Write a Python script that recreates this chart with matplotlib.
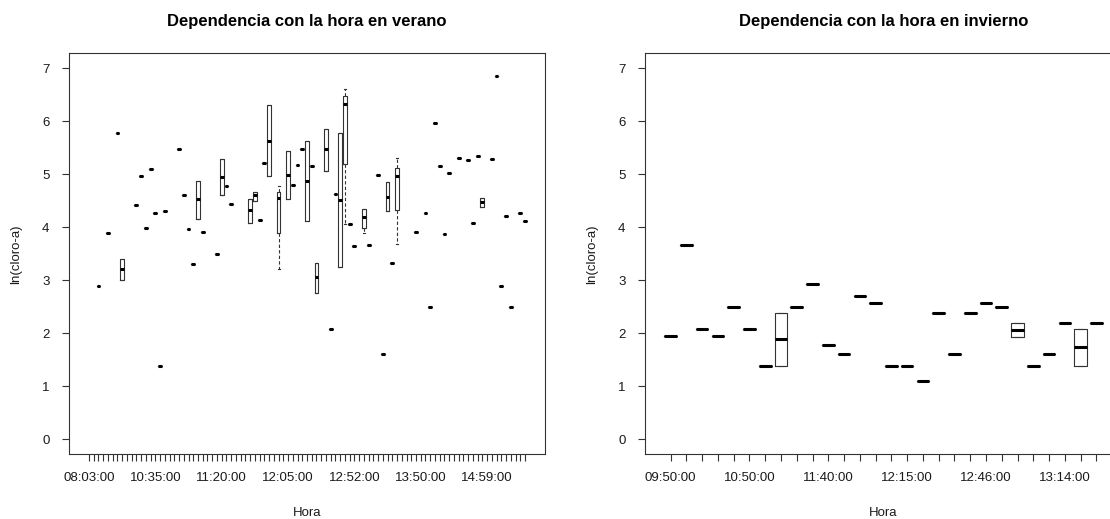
import matplotlib
matplotlib.use('Agg')
import matplotlib.pyplot as plt

plt.rcParams['font.family'] = ['Liberation Sans', 'DejaVu Sans']

# ---------------- Summer (verano) ----------------
n_verano = 93
verano_pos = [2, 4, 6, 7, 10, 11, 12, 13, 14, 15,
              16, 19, 20, 21, 22, 23, 24, 27, 28, 29,
              30, 34, 35, 36, 37, 38, 40, 42, 43, 44,
              45, 46, 47, 48, 50, 51, 52, 53, 54, 55,
              56, 58, 59, 61, 62, 63, 64, 65, 69, 71,
              72, 73, 74, 75, 76, 78, 80, 81, 82, 83,
              85, 86, 87, 88, 89, 91, 92]
verano_med = [2.89, 3.89, 5.77, 3.21, 4.42, 4.96, 3.99, 5.09, 4.27, 1.39,
              4.31, 5.48, 4.60, 3.96, 3.30, 4.53, 3.91, 3.49, 4.95, 4.77,
              4.43, 4.32, 4.60, 4.13, 5.21, 5.63, 4.56, 4.99, 4.80, 5.17,
              5.48, 4.88, 5.15, 3.06, 5.48, 2.08, 4.62, 4.52, 6.33, 4.07,
              3.64, 4.19, 3.67, 4.99, 1.61, 4.58, 3.33, 4.96, 3.91, 4.26,
              2.49, 5.96, 5.16, 3.87, 5.02, 5.30, 5.26, 4.09, 5.34, 4.48,
              5.28, 6.85, 2.89, 4.21, 2.49, 4.26, 4.11]
verano_q1 = [2.89, 3.89, 5.77, 3.01, 4.42, 4.96, 3.99, 5.09, 4.27, 1.39,
             4.31, 5.48, 4.60, 3.96, 3.30, 4.16, 3.91, 3.49, 4.60, 4.77,
             4.43, 4.09, 4.49, 4.13, 5.21, 4.96, 3.89, 4.53, 4.80, 5.17,
             5.48, 4.11, 5.15, 2.77, 5.07, 2.08, 4.62, 3.25, 5.19, 4.07,
             3.64, 3.98, 3.67, 4.99, 1.61, 4.30, 3.33, 4.32, 3.91, 4.26,
             2.49, 5.96, 5.16, 3.87, 5.02, 5.30, 5.26, 4.09, 5.34, 4.38,
             5.28, 6.85, 2.89, 4.21, 2.49, 4.26, 4.11]
verano_q3 = [2.89, 3.89, 5.77, 3.40, 4.42, 4.96, 3.99, 5.09, 4.27, 1.39,
             4.31, 5.48, 4.60, 3.96, 3.30, 4.88, 3.91, 3.49, 5.28, 4.77,
             4.43, 4.53, 4.67, 4.13, 5.21, 6.30, 4.67, 5.43, 4.80, 5.17,
             5.48, 5.63, 5.15, 3.33, 5.85, 2.08, 4.62, 5.77, 6.47, 4.07,
             3.64, 4.34, 3.67, 4.99, 1.61, 4.85, 3.33, 5.11, 3.91, 4.26,
             2.49, 5.96, 5.16, 3.87, 5.02, 5.30, 5.26, 4.09, 5.34, 4.56,
             5.28, 6.85, 2.89, 4.21, 2.49, 4.26, 4.11]
verano_lo = [2.89, 3.89, 5.77, 3.01, 4.42, 4.96, 3.99, 5.09, 4.27, 1.39,
             4.31, 5.48, 4.60, 3.96, 3.30, 4.16, 3.91, 3.49, 4.60, 4.77,
             4.43, 4.09, 4.49, 4.13, 5.21, 4.96, 3.22, 4.53, 4.80, 5.17,
             5.48, 4.11, 5.15, 2.77, 5.07, 2.08, 4.62, 3.25, 4.07, 4.07,
             3.64, 3.90, 3.67, 4.99, 1.61, 4.30, 3.33, 3.68, 3.91, 4.26,
             2.49, 5.96, 5.16, 3.87, 5.02, 5.30, 5.26, 4.09, 5.34, 4.38,
             5.28, 6.85, 2.89, 4.21, 2.49, 4.26, 4.11]
verano_hi = [2.89, 3.89, 5.77, 3.40, 4.42, 4.96, 3.99, 5.09, 4.27, 1.39,
             4.31, 5.48, 4.60, 3.96, 3.30, 4.88, 3.91, 3.49, 5.28, 4.77,
             4.43, 4.53, 4.67, 4.13, 5.21, 6.30, 4.77, 5.43, 4.80, 5.17,
             5.48, 5.63, 5.15, 3.33, 5.85, 2.08, 4.62, 5.77, 6.61, 4.07,
             3.64, 4.34, 3.67, 4.99, 1.61, 4.85, 3.33, 5.30, 3.91, 4.26,
             2.49, 5.96, 5.16, 3.87, 5.02, 5.30, 5.26, 4.09, 5.34, 4.56,
             5.28, 6.85, 2.89, 4.21, 2.49, 4.26, 4.11]
verano_tick_idx = [0, 14, 28, 42, 56, 70, 84]
verano_tick_lab = ['08:03:00', '10:35:00', '11:20:00', '12:05:00',
                   '12:52:00', '13:50:00', '14:59:00']

# ---------------- Winter (invierno) ----------------
n_invierno = 28
invierno_pos = list(range(28))
invierno_med = [1.95, 3.67, 2.08, 1.95, 2.49, 2.08, 1.39, 1.89, 2.49, 2.94,
                1.79, 1.61, 2.71, 2.57, 1.39, 1.39, 1.10, 2.39, 1.61, 2.39,
                2.57, 2.49, 2.07, 1.39, 1.61, 2.20, 1.74, 2.20]
invierno_q1 = [1.95, 3.67, 2.08, 1.95, 2.49, 2.08, 1.39, 1.39, 2.49, 2.94,
               1.79, 1.61, 2.71, 2.57, 1.39, 1.39, 1.10, 2.39, 1.61, 2.39,
               2.57, 2.49, 1.94, 1.39, 1.61, 2.20, 1.39, 2.20]
invierno_q3 = [1.95, 3.67, 2.08, 1.95, 2.49, 2.08, 1.39, 2.39, 2.49, 2.94,
               1.79, 1.61, 2.71, 2.57, 1.39, 1.39, 1.10, 2.39, 1.61, 2.39,
               2.57, 2.49, 2.20, 1.39, 1.61, 2.20, 2.08, 2.20]
invierno_tick_idx = [0, 5, 10, 15, 20, 25]
invierno_tick_lab = ['09:50:00', '10:50:00', '11:40:00', '12:15:00',
                     '12:46:00', '13:14:00']

W, H = 1110, 519
fig = plt.figure(figsize=(W / 100, H / 100), dpi=100)
fig.patch.set_facecolor('white')


def px_axes(x0, x1, ytop, ybot):
    return fig.add_axes([x0 / W, 1 - ybot / H, (x1 - x0) / W, (ybot - ytop) / H])


EDGE = '#333333'
TXT = '#1a1a1a'


def draw(ax, n, pos, lo, q1, med, q3, hi, tick_idx, tick_lab, title):
    stats = [dict(med=m, q1=a, q3=b, whislo=l, whishi=h, fliers=[])
             for l, a, m, b, h in zip(lo, q1, med, q3, hi)]
    ax.bxp(stats, positions=pos, widths=0.8, capwidths=0.4,
           manage_ticks=False, showfliers=False,
           boxprops=dict(color=EDGE, lw=0.8),
           medianprops=dict(color='black', lw=2.2, solid_capstyle='butt'),
           whiskerprops=dict(color=EDGE, lw=0.8, linestyle=(0, (3, 2))),
           capprops=dict(color=EDGE, lw=0.8))
    ext = 0.04 * n
    ax.set_xlim(-0.5 - ext, n - 0.5 + ext)
    ax.set_ylim(-0.28, 7.28)
    ax.set_xticks(range(n))
    labels = [''] * n
    for i, lab in zip(tick_idx, tick_lab):
        labels[i] = lab
    ax.set_xticklabels(labels)
    ax.set_yticks(range(8))
    ax.tick_params(axis='both', direction='out', length=5, width=0.8,
                   color=EDGE, labelsize=9.5, labelcolor=TXT)
    ax.tick_params(axis='x', pad=8)
    ax.tick_params(axis='y', pad=9)
    for s in ax.spines.values():
        s.set_color(EDGE)
        s.set_linewidth(0.8)
    ax.set_xlabel('Hora', fontsize=9.5, color=TXT, labelpad=16)
    ax.set_ylabel('ln(cloro-a)', fontsize=9.5, color=TXT, labelpad=14)
    ax.set_title(title, fontsize=12, fontweight='bold', color='black', pad=20)


ax1 = px_axes(69, 545, 53.3, 454.3)
draw(ax1, n_verano, verano_pos, verano_lo, verano_q1, verano_med, verano_q3,
     verano_hi, verano_tick_idx, verano_tick_lab,
     'Dependencia con la hora en verano')

ax2 = px_axes(645, 1122, 53.3, 454.3)
draw(ax2, n_invierno, invierno_pos, invierno_q1, invierno_q1, invierno_med,
     invierno_q3, invierno_q3, invierno_tick_idx, invierno_tick_lab,
     'Dependencia con la hora en invierno')

fig.savefig('out.png', dpi=100, facecolor='white')
